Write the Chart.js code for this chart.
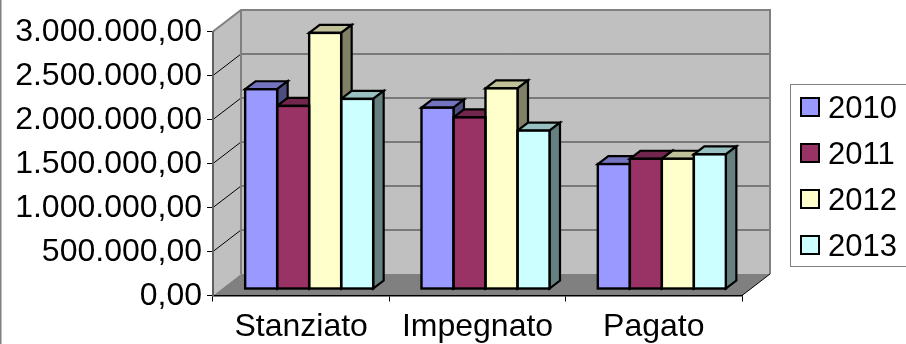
<!DOCTYPE html>
<html>
<head>
<meta charset="utf-8">
<title>Stanziato Impegnato Pagato</title>
<script src="https://cdn.jsdelivr.net/npm/chart.js@4/dist/chart.umd.min.js"></script>
<style>
  html, body { margin: 0; padding: 0; background: #fff; overflow: hidden; }
  canvas { display: block; }
</style>
</head>
<body>
<canvas id="chart" width="906" height="344"></canvas>
<script>
const categories = ['Stanziato', 'Impegnato', 'Pagato'];
const seriesNames = ['2010', '2011', '2012', '2013'];
const values2010 = [2270000, 2060000, 1420000];
const values2011 = [2080000, 1950000, 1480000];
const values2012 = [2910000, 2280000, 1480000];
const values2013 = [2160000, 1800000, 1530000];
const yTickLabels = ['0,00', '500.000,00', '1.000.000,00', '1.500.000,00', '2.000.000,00', '2.500.000,00', '3.000.000,00'];

const frontColors = ['#9999ff', '#993366', '#ffffcc', '#ccffff'];
const topColors = ['#7373c0', '#73264d', '#c0c099', '#99c0c0'];
const sideColors = ['#4d4d80', '#4d1a33', '#808066', '#668080'];
const fontName = "'Liberation Sans', Arial, sans-serif";

const wallDx = 28, wallDy = -21.5;   // depth of the box
const barDx = 8, barDy = -6.5;       // bars stand a bit behind the front plane
const faceDx = 10.5, faceDy = -8;    // depth of one bar

const poly = (ctx, pts, fill, stroke, width) => {
  ctx.beginPath();
  pts.forEach((p, i) => i ? ctx.lineTo(p[0], p[1]) : ctx.moveTo(p[0], p[1]));
  ctx.closePath();
  if (fill) { ctx.fillStyle = fill; ctx.fill(); }
  if (stroke) { ctx.strokeStyle = stroke; ctx.lineWidth = width; ctx.stroke(); }
};
const line = (ctx, x1, y1, x2, y2, color, width) => {
  ctx.beginPath();
  ctx.moveTo(x1, y1);
  ctx.lineTo(x2, y2);
  ctx.strokeStyle = color;
  ctx.lineWidth = width;
  ctx.stroke();
};

const boxPlugin = {
  id: 'box3d',
  beforeDraw(chart) {
    const { ctx, chartArea: a, scales: { y } } = chart;
    ctx.save();
    // outer chart edge
    line(ctx, 0.5, 0, 0.5, 344, '#808080', 2);
    // walls and floor
    poly(ctx, [[a.left + wallDx, a.top + wallDy], [a.right + wallDx, a.top + wallDy], [a.right + wallDx, a.bottom + wallDy], [a.left + wallDx, a.bottom + wallDy]], '#c0c0c0');
    poly(ctx, [[a.left, a.top], [a.left + wallDx, a.top + wallDy], [a.left + wallDx, a.bottom + wallDy], [a.left, a.bottom]], '#c0c0c0');
    poly(ctx, [[a.left, a.bottom], [a.left + wallDx, a.bottom + wallDy], [a.right + wallDx, a.bottom + wallDy], [a.right, a.bottom]], '#808080');
    // grid lines run along the side wall and across the back wall
    y.ticks.forEach(t => {
      if (t.value === 0 || t.value === 3000000) return;
      const py = y.getPixelForValue(t.value);
      line(ctx, a.left, py, a.left + wallDx, py + wallDy, '#000', 1);
      line(ctx, a.left + wallDx, py + wallDy, a.right + wallDx, py + wallDy, '#333', 1);
    });
    // wall edges
    ctx.lineJoin = 'miter';
    ctx.beginPath();
    ctx.moveTo(a.left, a.top);
    ctx.lineTo(a.left + wallDx, a.top + wallDy);
    ctx.lineTo(a.right + wallDx, a.top + wallDy);
    ctx.lineTo(a.right + wallDx, a.bottom + wallDy);
    ctx.moveTo(a.left + wallDx, a.top + wallDy);
    ctx.lineTo(a.left + wallDx, a.bottom + wallDy);
    ctx.strokeStyle = '#808080';
    ctx.lineWidth = 2;
    ctx.stroke();
    line(ctx, a.right, a.bottom, a.right + wallDx, a.bottom + wallDy, '#000', 1);
    ctx.restore();
  },
  beforeDatasetsDraw(chart) {
    const { ctx } = chart;
    ctx.save();
    ctx.translate(barDx, barDy);
    // top and side faces go first, the fronts are painted over them
    chart.data.datasets.forEach((ds, i) => {
      chart.getDatasetMeta(i).data.forEach(bar => {
        const l = bar.x - bar.width / 2, r = bar.x + bar.width / 2;
        poly(ctx, [[l, bar.y], [l + faceDx, bar.y + faceDy], [r + faceDx, bar.y + faceDy], [r, bar.y]], topColors[i], '#000', 2.2);
        poly(ctx, [[r, bar.y], [r + faceDx, bar.y + faceDy], [r + faceDx, bar.base + faceDy], [r, bar.base]], sideColors[i], '#000', 2.2);
      });
    });
  },
  afterDatasetsDraw(chart) {
    const { ctx } = chart;
    chart.data.datasets.forEach((ds, i) => {
      chart.getDatasetMeta(i).data.forEach(bar => {
        const l = bar.x - bar.width / 2;
        ctx.strokeStyle = '#000';
        ctx.lineWidth = 2.4;
        ctx.strokeRect(l, bar.y, bar.width, bar.base - bar.y);
      });
    });
    ctx.restore();
  },
  afterDraw(chart) {
    const { ctx } = chart;
    const boxX = 790.5, boxY = 84.5, rowH = 46;
    ctx.save();
    ctx.fillStyle = '#fff';
    ctx.fillRect(boxX, boxY, 116, 182);
    ctx.strokeStyle = '#808080';
    ctx.lineWidth = 1;
    ctx.strokeRect(boxX, boxY, 120, 182);
    ctx.font = '31px ' + fontName;
    ctx.textBaseline = 'middle';
    chart.data.datasets.forEach((ds, i) => {
      const sy = 98 + i * rowH;
      ctx.fillStyle = frontColors[i];
      ctx.strokeStyle = '#000';
      ctx.lineWidth = 2;
      ctx.fillRect(801, sy, 18, 18);
      ctx.strokeRect(801, sy, 18, 18);
      ctx.fillStyle = '#000';
      ctx.fillText(ds.label, 828, sy + 11);
    });
    ctx.restore();
  }
};

new Chart(document.getElementById('chart'), {
  type: 'bar',
  data: {
    labels: categories,
    datasets: [values2010, values2011, values2012, values2013].map((data, i) => ({
      label: seriesNames[i],
      data,
      backgroundColor: frontColors[i],
      borderWidth: 0,
      clip: false,
      categoryPercentage: 0.726,
      barPercentage: 1
    }))
  },
  options: {
    responsive: false,
    animation: false,
    layout: { padding: { top: 31.5, right: 164, left: 0, bottom: 0 } },
    plugins: { legend: { display: false }, tooltip: { enabled: false } },
    scales: {
      x: {
        afterFit: s => { s.height = 48.5; },
        grid: { drawOnChartArea: false, color: '#000', tickLength: 6, lineWidth: 1 },
        border: { color: '#000', width: 1.5 },
        ticks: { color: '#000', font: { family: fontName, size: 32 }, padding: 6, maxRotation: 0 }
      },
      y: {
        min: 0,
        max: 3000000,
        afterFit: s => { s.width = 213; },
        grid: { drawOnChartArea: false, color: '#000', tickLength: 6, lineWidth: 1 },
        border: { color: '#606060', width: 2 },
        ticks: {
          stepSize: 500000,
          color: '#000',
          padding: 5,
          labelOffset: 1,
          font: { family: fontName, size: 32 },
          callback: (v, i) => yTickLabels[i]
        }
      }
    }
  },
  plugins: [boxPlugin]
});
</script>
</body>
</html>
